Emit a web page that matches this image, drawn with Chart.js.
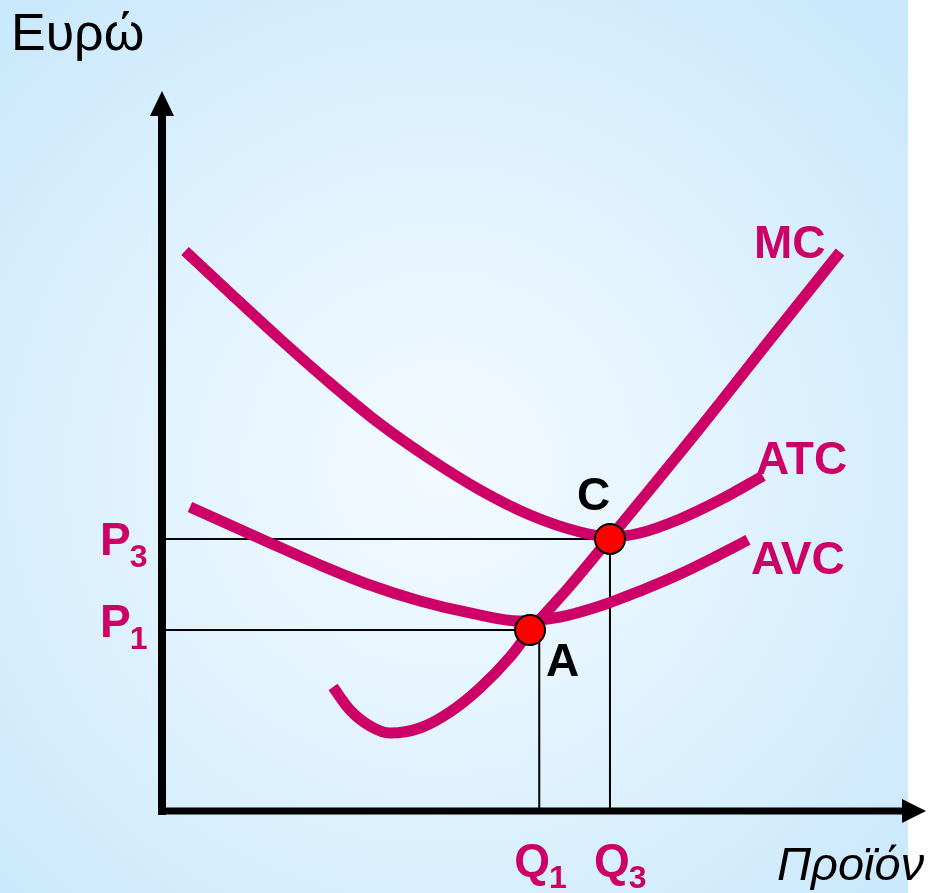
<!DOCTYPE html>
<html lang="el">
<head>
  <meta charset="UTF-8" />
  <title>Κόστος επιχείρησης</title>
  <script src="https://cdn.jsdelivr.net/npm/chart.js"></script>
  <style>
    html, body {
      margin: 0;
      padding: 0;
      background: #ffffff;
    }
    canvas {
      display: block;
    }
  </style>
</head>
<body>

  <canvas id="costChart" width="930" height="893"></canvas>

  <script>
    // καμπύλες κόστους (ποσότητα 0-100, ευρώ 0-100)
    const atcX = [3.07, 9.07, 15.73, 22.4, 29.07, 35.73, 42.4, 49.07, 55.73, 59.73, 63.73, 69.07, 74.4, 80.13];
    const atcY = [77.96, 72.1, 65.69, 59.55, 53.84, 48.95, 44.63, 41.14, 38.77, 38.08, 38.63, 40.59, 43.24, 46.58];

    const avcX = [3.73, 9.07, 14.4, 21.07, 27.73, 34.4, 41.07, 47.73, 53.07, 58.4, 63.73, 69.07, 73.73, 78.13];
    const avcY = [42.26, 39.75, 37.24, 34.17, 31.38, 29.15, 27.48, 26.36, 26.92, 28.45, 30.54, 32.91, 35.29, 37.66];

    const mcX = [22.8, 25.07, 27.73, 30.4, 34.4, 38.4, 42.4, 46.4, 49.07, 54.4, 59.73, 71.73, 82.4, 90.4];
    const mcY = [17.15, 13.95, 11.72, 10.74, 11.44, 13.67, 17.02, 21.34, 24.97, 31.24, 37.94, 53.28, 67.36, 77.82];

    // σημεία A και C
    const pointNames = ['A', 'C'];
    const pointX = [49.07, 59.73];
    const pointY = [25.1, 37.8];

    // βοηθητικές γραμμές προς τους άξονες
    const q1 = 50.3;
    const q3 = 59.73;
    const p1 = 25.1;
    const p3 = 37.8;

    const pink = '#cc0066';

    const toPoints = (xs, ys) => xs.map((x, i) => ({ x: x, y: ys[i] }));

    const curve = (label, xs, ys) => ({
      label: label,
      data: toPoints(xs, ys),
      showLine: true,
      borderColor: pink,
      borderWidth: 11,
      borderCapStyle: 'butt',
      cubicInterpolationMode: 'monotone',
      pointRadius: 0,
      order: 2
    });

    const guide = (pts) => ({
      label: 'guide',
      data: pts,
      showLine: true,
      borderColor: '#000000',
      borderWidth: 2,
      tension: 0,
      pointRadius: 0,
      order: 3
    });

    const bgPlugin = {
      id: 'bg',
      beforeDraw(chart) {
        const ctx = chart.ctx;
        ctx.save();
        ctx.fillStyle = '#ffffff';
        ctx.fillRect(0, 0, chart.width, chart.height);
        const g = ctx.createRadialGradient(440, 470, 0, 440, 470, 640);
        g.addColorStop(0, '#f3faff');
        g.addColorStop(0.35, '#e6f5fe');
        g.addColorStop(1, '#c9e8fc');
        ctx.fillStyle = g;
        ctx.fillRect(0, 0, 908, chart.height);
        ctx.restore();
      }
    };

    const axesPlugin = {
      id: 'axes',
      afterDatasetsDraw(chart) {
        const ctx = chart.ctx;
        const xs = chart.scales.x;
        const ys = chart.scales.y;
        const x0 = xs.getPixelForValue(0);
        const y0 = ys.getPixelForValue(0) + 1;
        ctx.save();
        ctx.strokeStyle = '#000000';
        ctx.fillStyle = '#000000';
        ctx.lineWidth = 8;
        ctx.beginPath();
        ctx.moveTo(x0, y0 + 4);
        ctx.lineTo(x0, 112);
        ctx.stroke();
        ctx.lineWidth = 7;
        ctx.beginPath();
        ctx.moveTo(x0 - 4, y0);
        ctx.lineTo(905, y0);
        ctx.stroke();
        // βέλη
        ctx.beginPath();
        ctx.moveTo(x0, 91);
        ctx.lineTo(x0 - 12, 116);
        ctx.lineTo(x0 + 12, 116);
        ctx.closePath();
        ctx.fill();
        ctx.beginPath();
        ctx.moveTo(926, y0);
        ctx.lineTo(902, y0 - 12);
        ctx.lineTo(902, y0 + 12);
        ctx.closePath();
        ctx.fill();
        ctx.restore();
      },
      afterDraw(chart) {
        const ctx = chart.ctx;
        const xs = chart.scales.x;
        const ys = chart.scales.y;
        ctx.save();
        ctx.textBaseline = 'alphabetic';
        ctx.textAlign = 'left';

        ctx.fillStyle = '#000000';
        ctx.font = '52px "Liberation Sans", Arial, sans-serif';
        ctx.fillText('Ευρώ', 11, 50);
        ctx.font = 'italic 47px "Liberation Sans", Arial, sans-serif';
        ctx.fillText('Προϊόν', 777, 880);

        ctx.font = 'bold 46px "Liberation Sans", Arial, sans-serif';
        ctx.fillText(pointNames[1], 577, 510);
        ctx.fillText(pointNames[0], 546, 676);

        const sub = (main, idx, x, y) => {
          ctx.font = 'bold 46px "Liberation Sans", Arial, sans-serif';
          ctx.fillText(main, x, y);
          const w = ctx.measureText(main).width;
          ctx.font = 'bold 32px "Liberation Sans", Arial, sans-serif';
          ctx.fillText(idx, x + w - 1, y + 12);
        };

        ctx.fillStyle = pink;
        sub('P', '3', 100, ys.getPixelForValue(p3) + 16);
        sub('P', '1', 100, ys.getPixelForValue(p1) + 7);
        sub('Q', '1', xs.getPixelForValue(q1) - 25, 876);
        sub('Q', '3', xs.getPixelForValue(q3) - 16, 876);

        ctx.font = 'bold 46px "Liberation Sans", Arial, sans-serif';
        ctx.fillText('MC', 754, 258);
        ctx.fillText('ATC', 756, 474);
        ctx.fillText('AVC', 751, 574);
        ctx.restore();
      }
    };

    new Chart(document.getElementById('costChart'), {
      type: 'scatter',
      data: {
        datasets: [
          {
            label: 'points',
            data: toPoints(pointX, pointY),
            backgroundColor: '#ff0000',
            borderColor: '#000000',
            borderWidth: 2,
            pointRadius: 15,
            order: 0
          },
          curve('MC', mcX, mcY),
          curve('ATC', atcX, atcY),
          curve('AVC', avcX, avcY),
          guide([{ x: 0, y: p3 }, { x: pointX[1], y: p3 }]),
          guide([{ x: 0, y: p1 }, { x: pointX[0], y: p1 }]),
          guide([{ x: q1, y: 0 }, { x: q1, y: p1 - 1.3 }]),
          guide([{ x: q3, y: 0 }, { x: q3, y: p3 }])
        ]
      },
      options: {
        responsive: false,
        animation: false,
        layout: {
          padding: { left: 162, right: 18, top: 93, bottom: 83 }
        },
        scales: {
          x: { type: 'linear', min: 0, max: 100, display: false },
          y: { type: 'linear', min: 0, max: 100, display: false }
        },
        plugins: {
          legend: { display: false },
          tooltip: { enabled: false }
        }
      },
      plugins: [bgPlugin, axesPlugin]
    });
  </script>

</body>
</html>
